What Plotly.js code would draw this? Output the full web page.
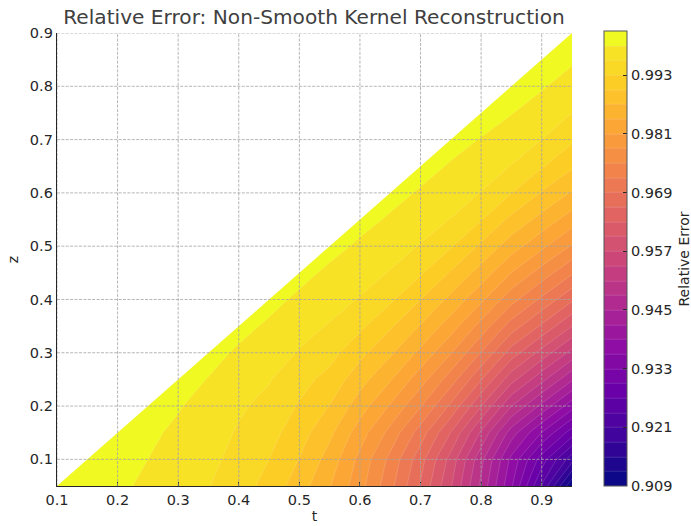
<!DOCTYPE html>
<html><head><meta charset="utf-8">
<script src="https://cdn.plot.ly/plotly-3.0.1.min.js"></script>
<style>html,body{margin:0;padding:0;background:#fff}</style></head>
<body><div id="chart" style="width:691px;height:526px"></div>
<script>
const tValues=[0.1,0.15,0.2,0.25,0.3,0.35,0.4,0.45,0.5,0.55,0.6,0.65,0.7,0.75,0.8,0.85,0.9,0.95];
const zValues=[0.05,0.1,0.15,0.2,0.25,0.3,0.35,0.4,0.45,0.5,0.55,0.6,0.65,0.7,0.75,0.8,0.85,0.9];
// relative error per t column, from z = 0.05 upward
const errorByT=[
[1.0004,1.0005],
[1.0000,1.0003,1.0005],
[.9995,.9998,1.0002,1.0005],
[.9985,.9990,.9995,1.0001,1.0005],
[.9973,.9979,.9985,.9992,1.0000,1.0005],
[.9961,.9967,.9973,.9980,.9989,.9999,1.0005],
[.9945,.9951,.9957,.9964,.9975,.9986,.9998,1.0005],
[.99185,.9930,.9941,.9952,.9962,.9974,.9986,.9998,1.0005],
[.9885,.9899,.9913,.9927,.9941,.9958,.9970,.9985,.9998,1.0005],
[.9842,.9858,.9877,.9899,.99196,.99412,.9958,.9972,.9985,.9998,1.0005],
[.9791,.98015,.98245,.98543,.9882,.99084,.99367,.9958,.9974,.9986,.9998,1.0005],
[.9730,.9742,.97704,.98072,.9843,.9875,.99041,.99351,.9958,.9975,.9987,.9998,1.0005],
[.9657,.9672,.9706,.9752,.97934,.98325,.98681,.99003,.99337,.9958,.99755,.99875,.9998,1.0005],
[.9573,.9589,.9629,.9684,.9735,.9782,.98244,.98624,.98974,.99327,.9959,.9976,.9988,.9998,1.0005],
[.9473,.9489,.9536,.9601,.9662,.9719,.9769,.98164,.9858,.98946,.99316,.9959,.99765,.9989,1.0000,1.0005],
[.9364,.9382,.9435,.95105,.9581,.9646,.9706,.9761,.98095,.98543,.98925,.99308,.9959,.9977,.9991,1.0000,1.0005],
[.9237,.9286,.9359,.9442,.9519,.9589,.9655,.9714,.9767,.9817,.9860,.9898,.99327,.9960,.9978,.99925,1.0001,1.0005],
[.9094,.9192,.9285,.9372,.9454,.9530,.9600,.9665,.9724,.9777,.9825,.9867,.9904,.99347,.9960,.9979,.99935,1.0002]
];
const xTicks=[0.1,0.2,0.3,0.4,0.5,0.6,0.7,0.8,0.9];
const yTicks=[0.1,0.2,0.3,0.4,0.5,0.6,0.7,0.8,0.9];
const cbTicks=[0.909,0.921,0.933,0.945,0.957,0.969,0.981,0.993];
const plasmaColors=['#0d0887','#41049d','#6a00a8','#8f0da4','#b12a90','#cc4778','#e16462','#f2844b','#fca636','#fcce25'];
const zLow=0.909, zHigh=1.002, step=0.003;
const shift=1/60;
const plasma=[[0,plasmaColors[0]]].concat(plasmaColors.map((c,i)=>[shift+i/10,c])).concat([[1-shift,'#f8e226'],[1,'#f0f921']]);
const xRange=[0.1,0.95], yRange=[0.05,0.9];
const ink='#262626', font='"DejaVu Sans"';
const zGrid=zValues.map((_,j)=>tValues.map((_,i)=>{const v=errorByT[i][j];return v===undefined?null:v;}));
const gridLine={color:'rgba(165,165,165,0.9)',width:0.9,dash:'3px,1.4px'};
const shapes=[{type:'path',xref:'x',yref:'y',layer:'above',fillcolor:'#fff',line:{width:0},
  path:`M ${xRange[0]} ${yRange[0]} L ${xRange[1]} ${yRange[1]} L ${xRange[0]} ${yRange[1]} Z`}];
xTicks.forEach(v=>shapes.push({type:'line',xref:'x',yref:'paper',x0:v,x1:v,y0:0,y1:1,layer:'above',line:gridLine}));
yTicks.forEach(v=>shapes.push({type:'line',xref:'paper',yref:'y',x0:0,x1:1,y0:v,y1:v,layer:'above',line:gridLine}));
const axis={showgrid:false,zeroline:false,showline:true,linecolor:ink,linewidth:1.2,ticks:'inside',ticklen:4,tickwidth:1,tickcolor:ink,
  tickfont:{family:font,size:14.5,color:ink},tickmode:'array'};
Plotly.newPlot('chart',[{
  type:'contour',x:tValues,y:zValues,z:zGrid,connectgaps:false,
  autocontour:false,contours:{start:zLow,end:zHigh,size:step,coloring:'fill',showlines:true},
  line:{color:'rgba(255,255,255,0.3)',width:0.5,smoothing:0},
  colorscale:plasma,zauto:false,zmin:zLow,zmax:zHigh,hoverinfo:'skip',
  colorbar:{x:1.062,xanchor:'left',xpad:0,y:0,yanchor:'bottom',ypad:0,lenmode:'pixels',len:455,thicknessmode:'pixels',thickness:23,
    outlinecolor:'#555',outlinewidth:1,tickmode:'array',tickvals:cbTicks,ticktext:cbTicks.map(v=>v.toFixed(3)),
    ticks:'inside',ticklen:4,tickcolor:ink,tickfont:{family:font,size:14.5,color:ink}}
}],{
  width:691,height:526,margin:{l:57,r:119,t:33,b:40,autoexpand:false},paper_bgcolor:'#fff',plot_bgcolor:'#fff',showlegend:false,
  title:{text:'Relative Error: Non-Smooth Kernel Reconstruction',font:{family:font,size:20.15,color:'#404040'},x:314/691,xanchor:'center',y:1-17/526,yanchor:'middle'},
  xaxis:Object.assign({},axis,{range:xRange,tickvals:xTicks,ticktext:xTicks.map(v=>v.toFixed(1)),title:{text:'t',font:{family:font,size:14,color:ink},standoff:4}}),
  yaxis:Object.assign({},axis,{range:yRange,tickvals:yTicks,ticktext:yTicks.map(v=>v.toFixed(1)),title:{text:'z',font:{family:font,size:14,color:ink},standoff:8}}),
  annotations:[{text:'Relative Error',textangle:-90,xref:'paper',yref:'paper',x:(683-57)/515,y:0.5,xanchor:'center',yanchor:'middle',showarrow:false,font:{family:font,size:14,color:ink}}],
  shapes:shapes
},{displayModeBar:false,staticPlot:true});
</script></body></html>
